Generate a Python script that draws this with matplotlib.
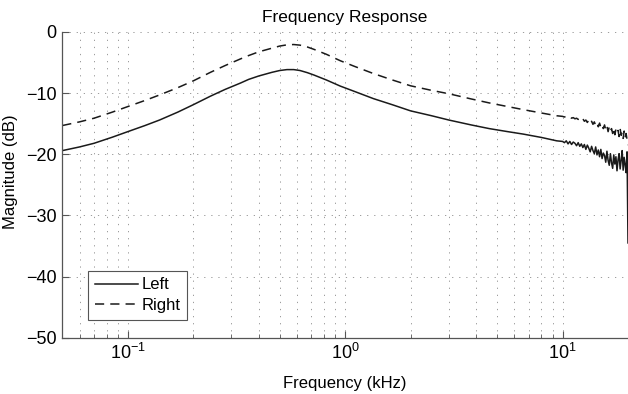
import matplotlib
matplotlib.use("Agg")
import matplotlib.pyplot as plt
from matplotlib.ticker import LogLocator, NullFormatter, MultipleLocator

plt.rcParams['font.family'] = ['Liberation Sans', 'DejaVu Sans']
plt.rcParams['mathtext.fontset'] = 'custom'
plt.rcParams['mathtext.rm'] = 'Liberation Sans'
plt.rcParams['mathtext.it'] = 'Liberation Sans'

# smooth part of the measured response (kHz, dB)
freq_khz = [0.05, 0.06, 0.07, 0.085, 0.1, 0.12, 0.14, 0.17, 0.2, 0.24, 0.28,
            0.33, 0.36, 0.4, 0.46, 0.5, 0.54, 0.58, 0.62, 0.67, 0.72, 0.82,
            0.95, 1.1, 1.35, 1.65, 2.0, 2.5, 3.0, 3.8, 4.6, 5.6, 6.6, 8.0, 9.4]
left_db = [-19.4, -18.8, -18.2, -17.2, -16.3, -15.3, -14.4, -13.1, -11.9,
           -10.5, -9.4, -8.35, -7.75, -7.2, -6.6, -6.3, -6.15, -6.15, -6.3,
           -6.65, -7.05, -7.85, -8.85, -9.7, -10.9, -11.9, -12.9, -13.7,
           -14.4, -15.2, -15.8, -16.3, -16.7, -17.25, -17.8]
right_db = [-15.3, -14.7, -14.1, -13.1, -12.2, -11.2, -10.3, -9.1, -8.0, -6.6,
            -5.5, -4.4, -3.85, -3.25, -2.65, -2.3, -2.1, -2.05, -2.15, -2.45,
            -2.85, -3.65, -4.7, -5.6, -6.8, -7.85, -8.8, -9.55, -10.1, -10.95,
            -11.6, -12.2, -12.7, -13.25, -13.7]

# noisy top end of the band
hf_khz = [10.0, 10.2, 10.4, 10.6, 10.8, 11.0, 11.2, 11.4, 11.6, 11.8, 12.0,
          12.2, 12.4, 12.6, 12.8, 13.0, 13.2, 13.4, 13.6, 13.8, 14.0, 14.2,
          14.4, 14.6, 14.8, 15.0, 15.2, 15.4, 15.6, 15.8, 16.0, 16.2, 16.4,
          16.6, 16.8, 17.0, 17.2, 17.4, 17.6, 17.8, 18.0, 18.2, 18.4, 18.6,
          18.8, 19.0, 19.2, 19.4, 19.6, 19.8, 20.0]
left_hf_db = [-17.9, -18.1, -17.8, -18.3, -17.9, -18.4, -18.0, -18.2, -18.6,
              -18.1, -18.7, -18.3, -18.9, -18.4, -19.2, -18.5, -19.0, -19.6,
              -18.7, -19.4, -19.9, -18.8, -20.1, -19.3, -20.4, -19.2, -20.7,
              -19.8, -20.2, -21.3, -19.5, -21.0, -21.8, -19.9, -21.4, -22.3,
              -20.1, -21.6, -20.4, -22.7, -20.9, -19.9, -22.4, -21.0, -19.4,
              -22.6, -20.5, -21.7, -23.0, -19.6, -34.5]
right_hf_db = [-13.8, -13.9, -13.8, -14.0, -13.9, -14.1, -14.0, -14.2, -14.1,
               -14.3, -14.2, -14.5, -14.2, -14.6, -14.4, -14.8, -14.4, -14.9,
               -14.6, -15.1, -14.7, -15.3, -14.9, -15.5, -14.9, -15.6, -15.2,
               -15.8, -15.2, -16.0, -15.4, -16.3, -15.5, -16.2, -15.8, -16.6,
               -15.7, -16.8, -15.9, -16.5, -16.1, -17.1, -15.8, -16.9, -16.4,
               -17.4, -16.2, -17.3, -16.6, -17.6, -18.5]

fig = plt.figure(figsize=(6.28, 3.94), dpi=100)
ax = fig.add_axes([62.3 / 628, 1 - 337.7 / 394, 1 - 62.3 / 628, (337.7 - 32) / 394])

ink = '#1a1a1a'
ax.semilogx(freq_khz + hf_khz, left_db + left_hf_db, color=ink, lw=1.1,
            label='Left')
ax.semilogx(freq_khz + hf_khz, right_db + right_hf_db, color=ink, lw=1.1,
            dashes=(6, 4), label='Right')

ax.set_xlim(0.05, 20)
ax.set_ylim(-50, 0)
ax.yaxis.set_major_locator(MultipleLocator(10))
ax.xaxis.set_major_locator(LogLocator(base=10))
ax.xaxis.set_minor_locator(LogLocator(base=10, subs=range(2, 10)))
ax.xaxis.set_minor_formatter(NullFormatter())

grid_style = dict(color='#8c8c8c', lw=0.6, linestyle=(0, (1.5, 7)))
ax.grid(True, which='major', axis='y', **grid_style)
ax.grid(True, which='both', axis='x', **grid_style)

for side in ('top', 'right'):
    ax.spines[side].set_visible(False)
for side in ('left', 'bottom'):
    ax.spines[side].set_color('#555555')
    ax.spines[side].set_linewidth(0.9)

ax.tick_params(which='both', direction='in', colors='#555555',
               labelcolor='black', labelsize=13, top=False, right=False)
ax.tick_params(which='major', length=5, pad=4)
ax.tick_params(which='minor', length=3)

ax.set_title('Frequency Response', fontsize=12.5, pad=7)
ax.set_xlabel('Frequency (kHz)', fontsize=12, labelpad=9)
ax.set_ylabel('Magnitude (dB)', fontsize=12)
ax.yaxis.set_label_coords(-0.078, 0.542)

leg = ax.legend(loc='lower left', bbox_to_anchor=(0.046, 0.058),
                borderaxespad=0, fontsize=12, handlelength=2.6,
                handletextpad=0.2, fancybox=False, framealpha=1,
                edgecolor='#555555', borderpad=0.4, labelspacing=0.35)
leg.get_frame().set_linewidth(0.8)

fig.savefig('out.png', dpi=100)
